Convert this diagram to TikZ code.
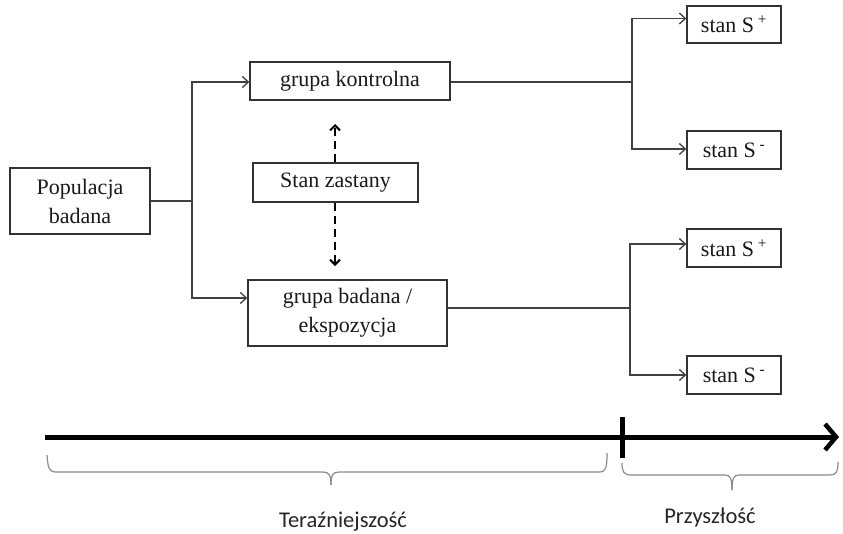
\documentclass[tikz,border=0pt]{standalone}
\usepackage{fontspec}
\setmainfont{Liberation Serif}
\newfontfamily\calib{Carlito}
\usetikzlibrary{arrows.meta}
\tikzset{
  box/.style={draw=black!80, line width=1.4pt, fill=white, inner sep=0pt, align=center,
    text=black!90, font=\fontsize{22}{29}\selectfont},
  conn/.style={draw=black!75, line width=1.3pt},
  connarr/.style={conn, -{Straight Barb[length=6pt,width=11pt,line width=1.3pt]}},
  dasharr/.style={draw=black, line width=2.2pt, dash pattern=on 8pt off 5pt,
    -{Straight Barb[length=5pt,width=10pt,line width=2pt]}},
  brace/.style={draw=black!45, line width=1.2pt},
  timetext/.style={font=\calib\fontsize{22.5}{27}\selectfont, text=black!85, anchor=base, inner sep=0pt}
}
\begin{document}
\begin{tikzpicture}[x=1pt,y=-1pt]
\useasboundingbox[fill=white] (0,0) rectangle (843,533);

% boxes
\node[box, minimum width=140pt, minimum height=66pt] (pop) at (80,201) {Populacja\\badana};
\node[box, minimum width=200pt, minimum height=38pt] (kon) at (350,81) {grupa kontrolna};
\node[box, minimum width=165pt, minimum height=39pt] (stan) at (335.5,182.5) {Stan zastany};
\node[box, minimum width=199pt, minimum height=66pt] (bad) at (347.5,313) {grupa badana /\\ekspozycja};
\node[box, minimum width=94pt, minimum height=37pt] (sp1) at (734,24.5) {stan S\,\textsuperscript{+}};
\node[box, minimum width=94pt, minimum height=38pt] (sm1) at (734,150) {stan S\,\textsuperscript{-}};
\node[box, minimum width=94pt, minimum height=38pt] (sp2) at (734,248) {stan S\,\textsuperscript{+}};
\node[box, minimum width=94pt, minimum height=38pt] (sm2) at (734,375) {stan S\,\textsuperscript{-}};

% left split
\coordinate (j1) at (192,201);
\draw[conn] (pop.east) -- (j1);
\draw[connarr] (j1) |- ([yshift=-1pt]kon.west);
\draw[connarr] (j1) |- ([yshift=15pt]bad.west);

% top right split
\coordinate (j2) at (632,82);
\draw[conn] ([yshift=-1pt]kon.east) -- (j2);
\draw[connarr] (j2) |- ([yshift=6pt]sp1.west);
\draw[connarr] (j2) |- ([yshift=1pt]sm1.west);

% bottom right split
\coordinate (j3) at (630,308);
\draw[conn] ([yshift=5pt]bad.east) -- (j3);
\draw[connarr] (j3) |- ([yshift=4pt]sp2.west);
\draw[connarr] (j3) |- (sm2.west);

% dashed arrows
\coordinate (dtop) at (335,124);
\coordinate (dbot) at (335,266);
\draw[dasharr] (stan.north -| dtop) -- (dtop);
\draw[dasharr] (stan.south -| dbot) -- (dbot);

% timeline
\coordinate (t0) at (45,437);
\coordinate (t1) at (839,437);
\draw[line width=5pt, -{Straight Barb[length=11pt,width=26pt,line width=4.5pt]}] (t0) -- (t1);
\coordinate (k0) at (622,417);
\coordinate (k1) at (622,458);
\draw[line width=5pt] (k0) -- (k1);

% braces
\draw[brace] (47,455) .. controls (48,468) and (49,472) .. (56,472) -- (323,472)
  .. controls (329,472) and (331,475) .. (331,485);
\draw[brace] (331,485) .. controls (331,475) and (333,472) .. (339,472) -- (599,472)
  .. controls (606,472) and (607,468) .. (607,453);
\draw[brace] (622,463) .. controls (622,472) and (624,475) .. (631,475) -- (725,475)
  .. controls (730,475) and (732,478) .. (732,490);
\draw[brace] (732,490) .. controls (732,478) and (734,475) .. (739,475) -- (830,475)
  .. controls (836,475) and (838,472) .. (838,462);

% labels
\node[timetext] (ter) at (343,527) {Teraźniejszość};
\node[timetext] (prz) at (710,523) {Przyszłość};
\end{tikzpicture}
\end{document}
